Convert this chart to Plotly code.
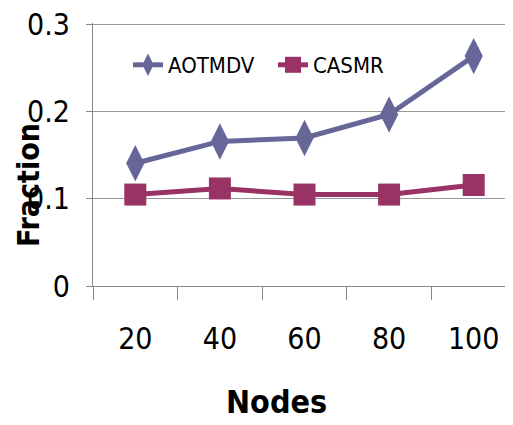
import plotly.graph_objects as go

categories = ["20", "40", "60", "80", "100"]
aotmdv = [0.141, 0.166, 0.170, 0.197, 0.264]
casmr = [0.105, 0.112, 0.105, 0.105, 0.116]
y_ticks = [0, 0.1, 0.2, 0.3]
y_ticktext = ["0", "0.1", "0.2", "0.3"]

FONT = "DejaVu Sans Condensed, Liberation Sans Narrow, sans-serif"

# the page body has an 8px margin, so figure coords = page coords - 8
L, T, R, B = 85, 15, 5, 147
PW, PH = 513 - L - R, 425 - T - B


def px(xp):
    return (xp - 8 - L) / PW


def py(yp):
    return (425 - B - (yp - 8)) / PH


fig = go.Figure()
fig.add_trace(go.Scatter(
    x=categories, y=aotmdv, name="AOTMDV", mode="lines+markers",
    line=dict(color="#666699", width=5),
    marker=dict(symbol="diamond-tall", size=26, color="#666699"),
))
fig.add_trace(go.Scatter(
    x=categories, y=casmr, name="CASMR", mode="lines+markers",
    line=dict(color="#993366", width=5),
    marker=dict(symbol="square", size=22, color="#993366"),
))

fig.update_layout(
    width=513, height=425,
    margin=dict(l=L, r=R, t=T, b=B, autoexpand=False),
    paper_bgcolor="white", plot_bgcolor="white",
    font=dict(family=FONT, color="black"),
    showlegend=True,
    legend=dict(
        orientation="h", x=px(128), y=py(65), xanchor="left", yanchor="middle",
        font=dict(family=FONT, size=22, color="black"),
        bgcolor="rgba(0,0,0,0)", itemwidth=30, tracegroupgap=0,
        entrywidth=100,
    ),
    xaxis=dict(
        type="category", range=[-0.5, 4.5], tickson="boundaries",
        showline=True, linecolor="#888888", linewidth=1,
        ticks="outside", ticklen=13, tickcolor="#888888",
        showgrid=False, zeroline=False, automargin=False,
        tickfont=dict(family=FONT, size=30, color="black"),
        ticklabelstandoff=26, ticklabeloverflow="allow",
    ),
    yaxis=dict(
        range=[0, 0.302], tickvals=y_ticks, ticktext=y_ticktext,
        showline=True, linecolor="#888888", linewidth=1,
        ticks="outside", ticklen=6, tickcolor="#888888",
        showgrid=True, gridcolor="#999999", gridwidth=1, zeroline=False,
        automargin=False,
        tickfont=dict(family=FONT, size=30, color="black"),
        ticklabelstandoff=10, ticklabeloverflow="allow",
    ),
    annotations=[
        dict(text="<b>Nodes</b>", xref="paper", yref="paper", x=px(276),
             y=py(402), xanchor="center", yanchor="middle", showarrow=False,
             font=dict(family=FONT, size=32, color="black")),
        dict(text="<b>Fraction</b>", xref="paper", yref="paper", x=px(29),
             y=py(185), xanchor="center", yanchor="middle", showarrow=False,
             textangle=-90, font=dict(family=FONT, size=30, color="black")),
    ],
)

fig.write_html("out.html")
